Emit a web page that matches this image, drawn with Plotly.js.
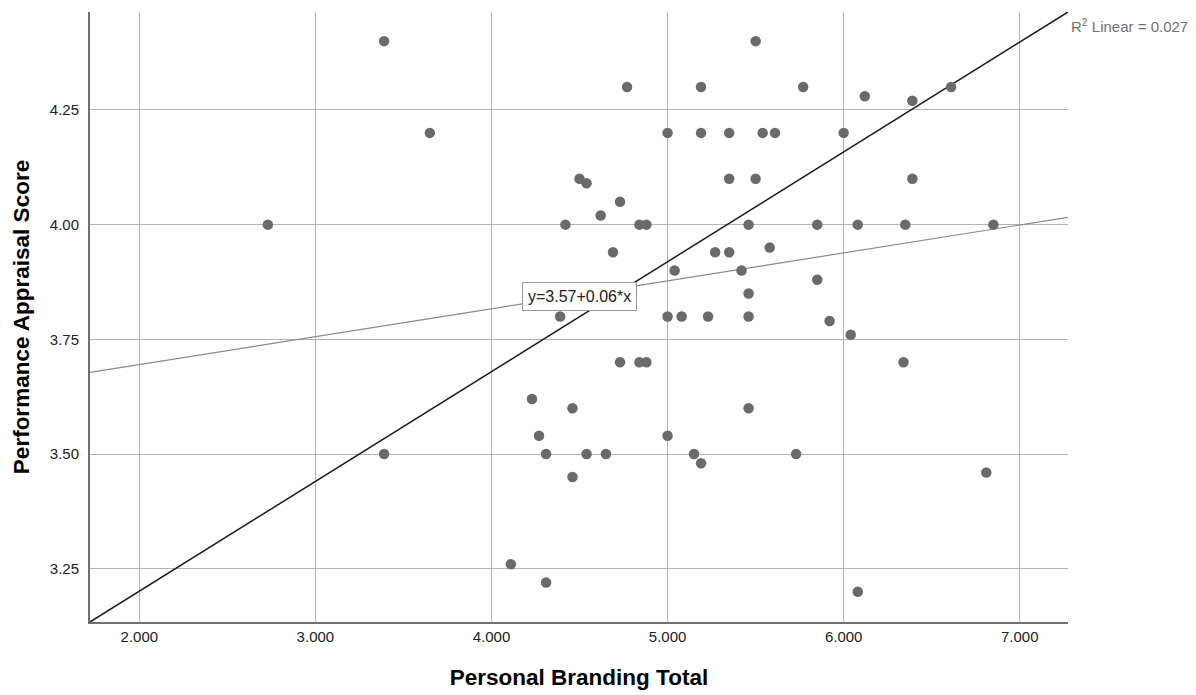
<!DOCTYPE html>
<html>
<head>
<meta charset="utf-8">
<script src="https://cdn.plot.ly/plotly-3.0.1.min.js"></script>
<style>html,body{margin:0;padding:0;background:#fff;}#chart{width:1196px;height:695px;}</style>
</head>
<body>
<div id="chart"></div>
<script>
// Data
const brandingTotal = [
  3.39, 2.73, 5.50, 4.77, 5.19, 5.77, 3.65, 5.00, 5.19, 5.35, 5.54, 5.61,
  5.35, 5.50, 4.50, 4.54, 4.73, 4.62, 4.42, 4.84, 4.88, 5.46, 5.58, 4.69,
  5.27, 5.35, 6.12, 6.39, 6.61, 6.00, 6.39, 5.85, 6.08, 6.35, 6.85,
  5.04, 5.42, 5.46, 4.39, 5.00, 5.08, 5.23, 5.46, 4.73, 4.84, 4.88,
  4.23, 4.46, 5.46, 4.27, 5.00, 4.31, 4.54, 4.65, 5.15, 5.19, 5.73, 4.46,
  3.39, 5.85, 5.92, 6.04, 6.34, 6.81, 4.11, 4.31, 6.08
];
const appraisalScore = [
  4.40, 4.00, 4.40, 4.30, 4.30, 4.30, 4.20, 4.20, 4.20, 4.20, 4.20, 4.20,
  4.10, 4.10, 4.10, 4.09, 4.05, 4.02, 4.00, 4.00, 4.00, 4.00, 3.95, 3.94,
  3.94, 3.94, 4.28, 4.27, 4.30, 4.20, 4.10, 4.00, 4.00, 4.00, 4.00,
  3.90, 3.90, 3.85, 3.80, 3.80, 3.80, 3.80, 3.80, 3.70, 3.70, 3.70,
  3.62, 3.60, 3.60, 3.54, 3.54, 3.50, 3.50, 3.50, 3.50, 3.48, 3.50, 3.45,
  3.50, 3.88, 3.79, 3.76, 3.70, 3.46, 3.26, 3.22, 3.20
];
// Fit line endpoints (y=3.57+0.06*x across the axis span)
const fitX = [1.72, 7.274];
const fitY = [3.678, 4.016];
// Axis ranges
const xRange = [1.72, 7.274];
const yRange = [3.134, 4.4635];
// Tick values
const xTicks = [2, 3, 4, 5, 6, 7];
const yTicks = [3.25, 3.50, 3.75, 4.00, 4.25];
const xTickText = ["2.000", "3.000", "4.000", "5.000", "6.000", "7.000"];
const yTickText = ["3.25", "3.50", "3.75", "4.00", "4.25"];

const font = "Liberation Sans, Arial, sans-serif";

const traces = [
  {
    x: xRange, y: yRange, type: "scatter", mode: "lines",
    line: {color: "#1a1a1a", width: 1.5}, hoverinfo: "skip", showlegend: false
  },
  {
    x: fitX, y: fitY, type: "scatter", mode: "lines",
    line: {color: "#8a8a8a", width: 1.2}, hoverinfo: "skip", showlegend: false
  },
  {
    x: brandingTotal, y: appraisalScore, type: "scatter", mode: "markers",
    marker: {color: "#6a6a6a", size: 10.5}, showlegend: false
  }
];

const layout = {
  width: 1196, height: 695,
  margin: {l: 90, r: 128, t: 12, b: 73},
  paper_bgcolor: "#fff", plot_bgcolor: "#fff",
  font: {family: font, color: "#222"},
  showlegend: false,
  xaxis: {
    range: xRange, tickvals: xTicks, ticktext: xTickText,
    showgrid: true, gridcolor: "#b4b4b4", gridwidth: 1,
    zeroline: false, showline: true, linecolor: "#707070", linewidth: 2,
    ticks: "", tickfont: {size: 15, color: "#222", family: font},
    title: {text: "Personal Branding Total", font: {size: 22.5, color: "#000", family: font, weight: "bold"}, standoff: 25}
  },
  yaxis: {
    range: yRange, tickvals: yTicks, ticktext: yTickText,
    showgrid: true, gridcolor: "#b4b4b4", gridwidth: 1,
    zeroline: false, showline: true, linecolor: "#707070", linewidth: 2,
    ticks: "", ticklabelstandoff: 6, tickfont: {size: 15, color: "#222", family: font},
    title: {text: "Performance Appraisal Score", font: {size: 22.5, color: "#000", family: font, weight: "bold"}, standoff: 14}
  },
  annotations: [
    {
      x: 4.50, y: 3.843, xref: "x", yref: "y", text: "y=3.57+0.06*x",
      showarrow: false, bgcolor: "#ffffff", bordercolor: "#9a9a9a", borderwidth: 1, borderpad: 5,
      font: {size: 16, color: "#222", family: font}
    },
    {
      x: 1, y: 1, xref: "paper", yref: "paper", xanchor: "left", yanchor: "middle",
      xshift: 1, yshift: -13,
      text: "R<sup>2</sup> Linear = 0.027", showarrow: false,
      font: {size: 15, color: "#707070", family: font}
    }
  ]
};

Plotly.newPlot("chart", traces, layout, {displayModeBar: false, staticPlot: true});
</script>
</body>
</html>
